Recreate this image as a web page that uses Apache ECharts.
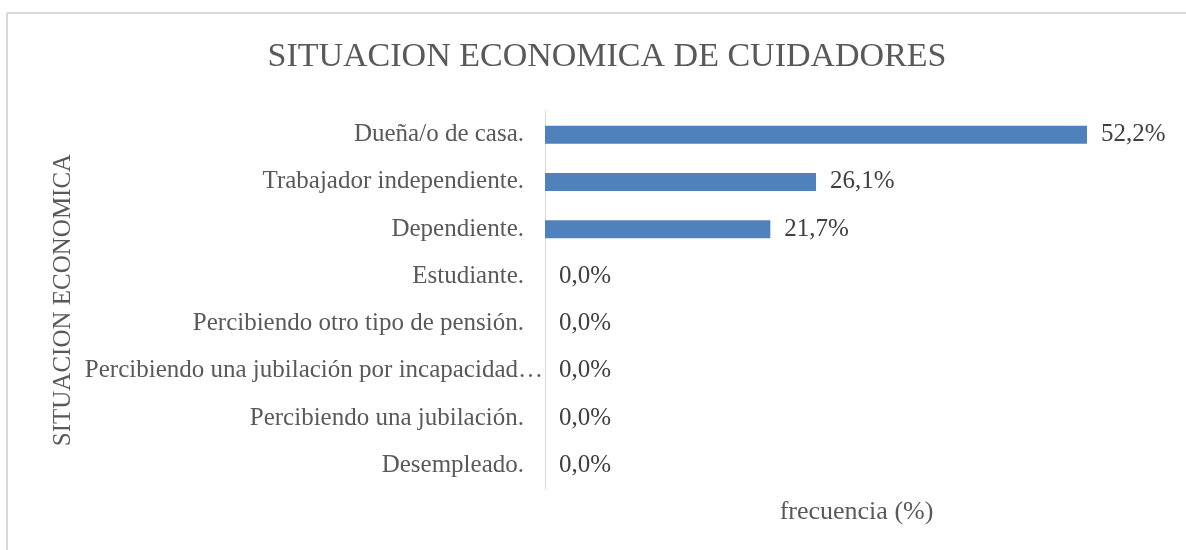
<!DOCTYPE html>
<html>
<head>
<meta charset="utf-8">
<script src="https://cdn.jsdelivr.net/npm/echarts@6/dist/echarts.min.js"></script>
<style>
  html, body { margin: 0; padding: 0; background: #fff; }
  #chartBox { width: 1186px; height: 550px; }
</style>
</head>
<body>
<div id="chartBox"></div>
<script>
// categorias de arriba hacia abajo
var categorias = [
  "Dueña/o de casa.",
  "Trabajador independiente.",
  "Dependiente.",
  "Estudiante.",
  "Percibiendo otro tipo de pensión.",
  "Percibiendo una jubilación por incapacidad…",
  "Percibiendo una jubilación.",
  "Desempleado."
];
var frecuencia = [52.2, 26.1, 21.7, 0, 0, 0, 0, 0];

var FONT = "Liberation Serif";

var chart = echarts.init(document.getElementById("chartBox"));
var option = {
  animation: false,
  title: {
    text: "SITUACION ECONOMICA DE CUIDADORES",
    left: 602,
    textAlign: "center",
    top: 35,
    textStyle: { fontFamily: FONT, fontSize: 34, fontWeight: "normal", color: "#595959" }
  },
  grid: { left: 545, right: 18, top: 111, bottom: 61 },
  xAxis: {
    type: "value",
    min: 0,
    max: 60,
    name: "frecuencia (%)",
    nameLocation: "middle",
    nameGap: 10,
    nameTextStyle: { fontFamily: FONT, fontSize: 26, color: "#595959" },
    axisLine: { show: false },
    axisTick: { show: false },
    axisLabel: { show: false },
    splitLine: { show: false }
  },
  yAxis: {
    type: "category",
    inverse: true,
    data: categorias,
    name: "SITUACION ECONOMICA",
    nameLocation: "middle",
    nameGap: 469,
    nameMoveOverlap: false,
    nameTextStyle: { fontFamily: FONT, fontSize: 25, color: "#595959" },
    axisLine: { show: true, lineStyle: { color: "#d9d9d9", width: 1 } },
    axisTick: { show: false },
    axisLabel: {
      fontFamily: FONT, fontSize: 25, color: "#595959", margin: 2,
      // la etiqueta recortada llega hasta el eje, las demas quedan separadas
      formatter: function (v) {
        return v.indexOf("…") >= 0 ? "{l|" + v + "}" : "{n|" + v + "}";
      },
      rich: {
        n: { fontFamily: FONT, fontSize: 25, color: "#595959", padding: [0, 19, 0, 0] },
        l: { fontFamily: FONT, fontSize: 25, color: "#595959" }
      }
    }
  },
  series: [{
    type: "bar",
    data: frecuencia,
    barWidth: 18,
    itemStyle: { color: "#4f81bd" },
    label: {
      show: true,
      position: "right",
      distance: 14,
      fontFamily: FONT,
      fontSize: 25,
      color: "#404040",
      formatter: function (p) {
        return p.value.toFixed(1).replace(".", ",") + "%";
      }
    }
  }],
  graphic: [
    { type: "line", shape: { x1: 7, y1: 13, x2: 1186, y2: 13 }, style: { stroke: "#d9d9d9", lineWidth: 2 } },
    { type: "line", shape: { x1: 7, y1: 13, x2: 7, y2: 550 }, style: { stroke: "#d9d9d9", lineWidth: 2 } }
  ]
};
chart.setOption(option);
</script>
</body>
</html>
